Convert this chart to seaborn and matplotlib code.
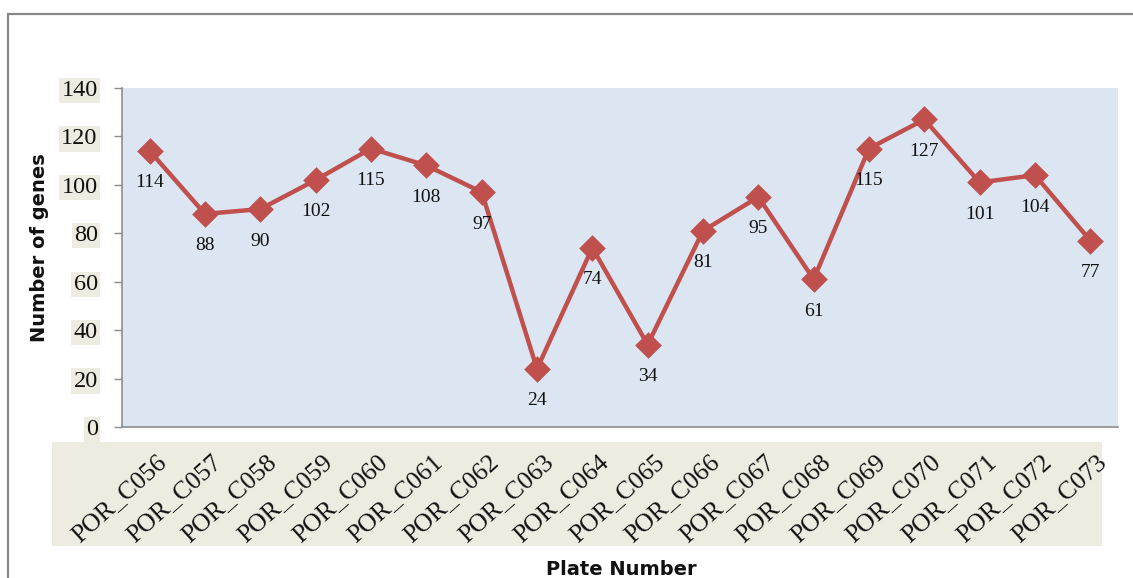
import matplotlib
matplotlib.use("Agg")
import matplotlib.pyplot as plt
import matplotlib.transforms as mtransforms
from matplotlib.patches import Rectangle
import seaborn as sns
import pandas as pd

plates = ["POR_C056", "POR_C057", "POR_C058", "POR_C059", "POR_C060", "POR_C061",
          "POR_C062", "POR_C063", "POR_C064", "POR_C065", "POR_C066", "POR_C067",
          "POR_C068", "POR_C069", "POR_C070", "POR_C071", "POR_C072", "POR_C073"]
genes = [114, 88, 90, 102, 115, 108, 97, 24, 74, 34, 81, 95, 61, 115, 127, 101, 104, 77]
yticks = [0, 20, 40, 60, 80, 100, 120, 140]

LINE = "#C0504D"
PLOT_BG = "#DCE6F2"
BEIGE = "#EEECE1"
SERIF = "Liberation Serif"

sns.set_theme(style="white")
plt.rcParams["font.family"] = ["DejaVu Sans"]

W, H = 1133, 578
fig = plt.figure(figsize=(W / 100, H / 100), dpi=100)
ax = fig.add_axes([122 / W, 1 - 427 / H, (1118 - 122) / W, (427 - 88) / H])
ax.set_facecolor(PLOT_BG)

df = pd.DataFrame({"plate": plates, "genes": genes})
sns.pointplot(data=df, x="plate", y="genes", color=LINE, markers="D",
              linestyles="-", errorbar=None, ax=ax,
              markersize=11, linewidth=3.2)

ax.set_xlim(-0.5, len(plates) - 0.5)
ax.set_ylim(0, 140)
ax.set_yticks(yticks)
ax.set_xlabel("")
ax.set_ylabel("")

for i, v in enumerate(genes):
    ax.annotate(str(v), (i, v), xytext=(0, -23), textcoords="offset points",
                ha="center", va="center", fontsize=14, family=SERIF, color="#111111")

for s in ["top", "right"]:
    ax.spines[s].set_visible(False)
for s in ["left", "bottom"]:
    ax.spines[s].set_color("#8c8c8c")
    ax.spines[s].set_linewidth(1.2)
ax.spines["bottom"].set_bounds(-0.5, len(plates) - 0.5)

ax.tick_params(axis="y", which="major", left=True, length=5.5, width=1, color="#8c8c8c",
               pad=12, labelsize=17.5)
ax.tick_params(axis="x", which="major", bottom=False, length=0, pad=17, labelsize=18.5)

for lab in ax.get_yticklabels():
    lab.set_family(SERIF)
    lab.set_color("#111111")
    lab.set_bbox(dict(facecolor=BEIGE, edgecolor="none", pad=1.5))

offset = mtransforms.ScaledTranslation(6 / 100, 0, fig.dpi_scale_trans)
for lab in ax.get_xticklabels():
    lab.set_family(SERIF)
    lab.set_color("#111111")
    lab.set_rotation(42)
    lab.set_ha("right")
    lab.set_va("top")
    lab.set_rotation_mode("anchor")
    lab.set_transform(lab.get_transform() + offset)

# beige band behind category labels
fig.add_artist(Rectangle((52 / W, 1 - 546 / H), (1102 - 52) / W, (546 - 442) / H,
                         transform=fig.transFigure, facecolor=BEIGE, edgecolor="none",
                         zorder=-1))
# outer chart border (top and left)
fig.add_artist(Rectangle((8 / W, -0.1), 1.2, 1.1 - 14 / H, transform=fig.transFigure,
                         facecolor="none", edgecolor="#878787", linewidth=1.6, zorder=5))

fig.text(40 / W, 1 - 248 / H, "Number of genes", rotation=90, ha="center", va="center",
         fontsize=14, fontweight="bold", color="#111111")
fig.text(621 / W, 1 - 575 / H, "Plate Number", ha="center", va="baseline",
         fontsize=14, fontweight="bold", color="#111111")

fig.savefig("out.png", dpi=100)
